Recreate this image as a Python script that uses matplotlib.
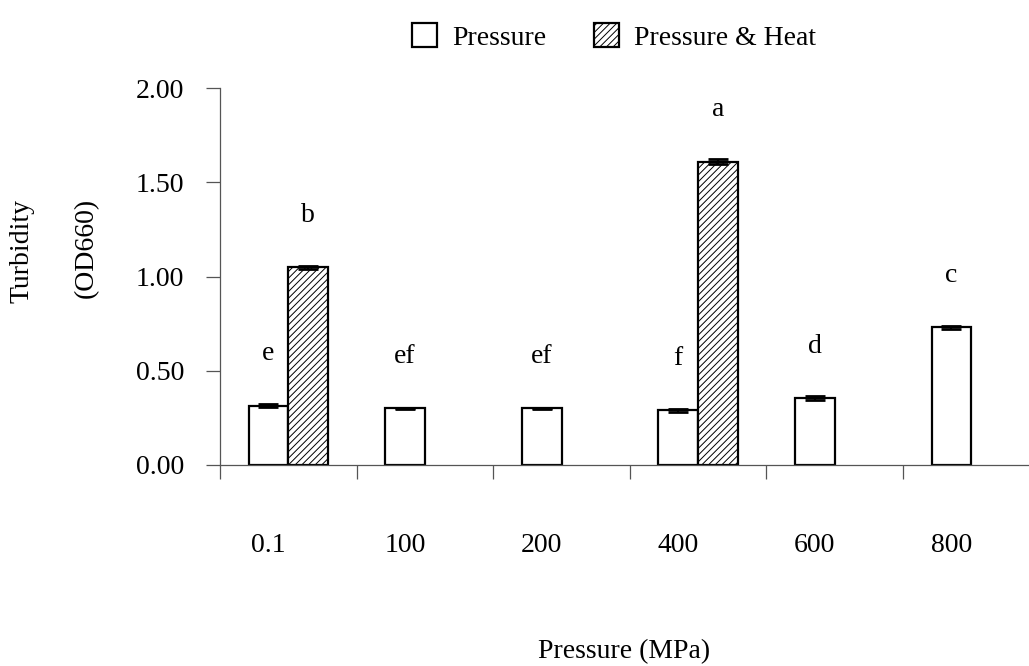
"""Turbidity of samples after pressure and pressure + heat treatment."""

import numpy as np
import matplotlib

matplotlib.use("Agg")
import matplotlib.pyplot as plt
from matplotlib.patches import Patch

categories = ["0.1", "100", "200", "400", "600", "800"]
pressure = [0.315, 0.30, 0.30, 0.29, 0.355, 0.73]
pressure_err = [0.008, 0.004, 0.004, 0.008, 0.012, 0.008]
pressure_letters = ["e", "ef", "ef", "f", "d", "c"]
heat = [1.05, np.nan, np.nan, 1.61, np.nan, np.nan]
heat_err = [0.008, 0.0, 0.0, 0.012, 0.0, 0.0]
heat_letters = ["b", "", "", "a", "", ""]
y_ticks = [0.0, 0.5, 1.0, 1.5, 2.0]

plt.rcParams["font.family"] = ["Liberation Serif", "DejaVu Serif"]
plt.rcParams["font.size"] = 20
plt.rcParams["hatch.linewidth"] = 0.7
plt.rcParams["hatch.color"] = "#404040"

W, H = 1029, 666
fig = plt.figure(figsize=(W / 100, H / 100), dpi=100)
left, right, bottom, top = 220, 1029, 465, 88
ax = fig.add_axes([left / W, 1 - bottom / H, (right - left) / W, (bottom - top) / H])

cat_px = 136.6
x = np.arange(len(categories))
width = 0.29
bar_kw = dict(edgecolor="black", linewidth=1.6)
err_kw = dict(ecolor="black", elinewidth=1.5, capsize=7.5, capthick=2.0)

ax.bar(x - width / 2, pressure, width, yerr=pressure_err, color="white",
       label="Pressure", error_kw=err_kw, **bar_kw)
heat_mask = ~np.isnan(heat)
ax.bar(x[heat_mask] + width / 2, np.array(heat)[heat_mask], width,
       yerr=np.array(heat_err)[heat_mask], color="white", hatch="/////",
       label="Pressure & Heat", error_kw=err_kw, **bar_kw)

# significance letters sit a fixed distance above each bar
gap = 0.275
for i in range(len(categories)):
    if pressure_letters[i]:
        ax.text(x[i] - width / 2, pressure[i] + gap, pressure_letters[i],
                ha="center", va="center")
    if heat_letters[i]:
        ax.text(x[i] + width / 2, heat[i] + gap, heat_letters[i],
                ha="center", va="center")

ax.set_xlim(-0.5, -0.5 + (right - left) / cat_px)
ax.set_ylim(0, 2.0)
ax.set_yticks(y_ticks)
ax.set_yticklabels([f"{v:.2f}" for v in y_ticks])

# boundary ticks between groups; group labels sit under the first bar
ax.set_xticks(np.arange(-0.5, len(categories) - 0.5, 1.0))
ax.set_xticklabels([])
ax.set_xticks(x - width / 2, minor=True)
ax.set_xticklabels(categories, minor=True)
ax.tick_params(axis="x", which="major", direction="out", length=10, width=0.9, color="#555555")
ax.tick_params(axis="x", which="minor", length=0, pad=49)
ax.tick_params(axis="y", direction="out", length=10, width=0.9, color="#555555", pad=16)

for side in ("top", "right"):
    ax.spines[side].set_visible(False)
for side in ("left", "bottom"):
    ax.spines[side].set_color("#555555")
    ax.spines[side].set_linewidth(0.9)

fig.text(22 / W, 1 - 251 / H, "Turbidity", rotation=90, ha="center", va="center")
fig.text(86 / W, 1 - 248 / H, "(OD660)", rotation=90, ha="center", va="center")
fig.text(624 / W, 1 - 652 / H, "Pressure (MPa)", ha="center", va="center")

handles = [
    Patch(facecolor="white", edgecolor="black", linewidth=1.6, label="Pressure"),
    Patch(facecolor="white", edgecolor="black", linewidth=1.6, hatch="/////", label="Pressure & Heat"),
]
fig.legend(handles=handles, loc="center", bbox_to_anchor=(614 / W, 1 - 37 / H),
           ncol=2, frameon=False, handlelength=0.9, handleheight=0.9,
           handletextpad=0.55, columnspacing=1.7, borderpad=0)

fig.savefig("out.png", dpi=100)
